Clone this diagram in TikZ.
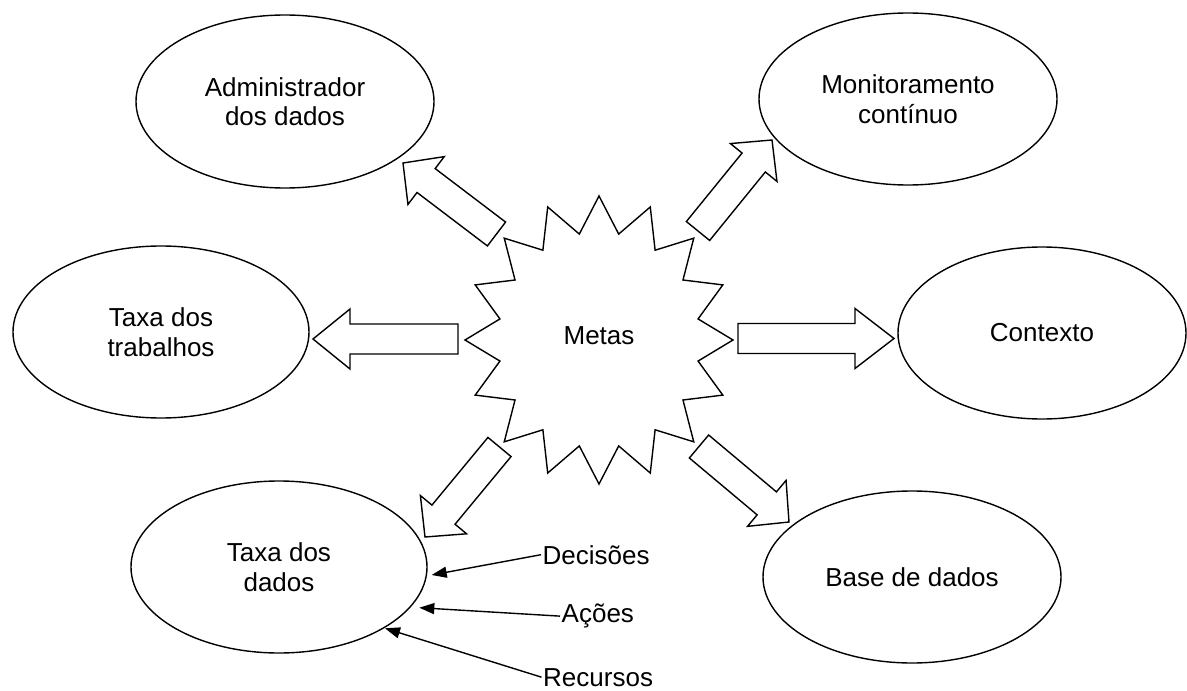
\documentclass[tikz,border=0pt]{standalone}
\usepackage{fontspec}
\setmainfont{Liberation Sans}
\usetikzlibrary{shapes.geometric,calc,arrows.meta}
\tikzset{
  bubble/.style={ellipse, draw, line width=1.4bp, fill=white, inner sep=0pt, outer sep=0pt, align=center},
  blockarrow/.style={draw, line width=1.4bp, fill=white, line join=miter},
  lbl/.style={inner xsep=1.5bp, inner ysep=0pt},
  pointer/.style={line width=1.4bp, -{Triangle[length=15bp,width=11bp]}},
}
\newcommand\blockarr[3]{% tail, tip, head length
  \coordinate (#1-hb) at ($(#2)!#3!(#1)$);
  \draw[blockarrow] ($(#1)!15bp!90:(#2)$) -- ($(#1-hb)!15bp!90:(#2)$) -- ($(#1-hb)!30bp!90:(#2)$) -- (#2)
     -- ($(#1-hb)!30bp!-90:(#2)$) -- ($(#1-hb)!15bp!-90:(#2)$) -- ($(#1)!15bp!-90:(#2)$) -- cycle;
}
\begin{document}
\begin{tikzpicture}[x=1bp, y=-1bp, font=\fontsize{26bp}{29.5bp}\selectfont]
\useasboundingbox[fill=white] (0,0) rectangle (1187,691);

% starburst
\draw[line width=1.4bp, fill=white, line join=miter]
  plot[samples at={0,1,...,31}] ({599+(117.5+16.5*cos(180*\x))*sin(\x*11.25)}, {340-(126+18*cos(180*\x))*cos(\x*11.25)}) -- cycle;
\node (metas) at (599,336) {Metas};

% ellipses
\node[bubble, minimum width=298bp, minimum height=173bp] (adm) at (285,101.5) {Administrador\\dos dados};
\node[bubble, minimum width=298bp, minimum height=172bp] (mon) at (908,99) {Monitoramento\\contínuo};
\node[bubble, minimum width=296bp, minimum height=172bp] (trab) at (161,332) {Taxa dos\\trabalhos};
\node[bubble, minimum width=288bp, minimum height=172bp] (ctx) at (1042,333) {Contexto};
\node[bubble, minimum width=296bp, minimum height=172bp] (tdd) at (279,567) {Taxa dos\\dados};
\node[bubble, minimum width=298bp, minimum height=172bp] (bdd) at (912,577) {Base de dados};

% block arrows
\coordinate (l-t) at (458,339);   \coordinate (l-h) at (313,339);
\coordinate (r-t) at (738,338.5); \coordinate (r-h) at (894,338.5);
\coordinate (ul-t) at (496.5,234); \coordinate (ul-h) at (403,163);
\coordinate (ur-t) at (698,231);   \coordinate (ur-h) at (772,140);
\coordinate (ll-t) at (499.5,447); \coordinate (ll-h) at (425,537);
\coordinate (lr-t) at (699,446.5); \coordinate (lr-h) at (789,522);
\blockarr{l-t}{l-h}{37bp}
\blockarr{r-t}{r-h}{39bp}
\blockarr{ul-t}{ul-h}{29bp}
\blockarr{ur-t}{ur-h}{29bp}
\blockarr{ll-t}{ll-h}{29bp}
\blockarr{lr-t}{lr-h}{29bp}

% labels with pointers
\node[lbl, anchor=base west] (dec) at (541,564) {Decisões};
\node[lbl, anchor=base west] (aco) at (560,622.7) {Ações};
\node[lbl, anchor=base west] (rec) at (541.5,686) {Recursos};
\coordinate (dec-p) at (431.7,575);
\coordinate (aco-p) at (419.3,607.7);
\coordinate (rec-p) at (385,628.3);
\draw[pointer] (dec.west) -- (dec-p);
\draw[pointer] (aco.west) -- (aco-p);
\draw[pointer] (rec.west) -- (rec-p);
\end{tikzpicture}
\end{document}
